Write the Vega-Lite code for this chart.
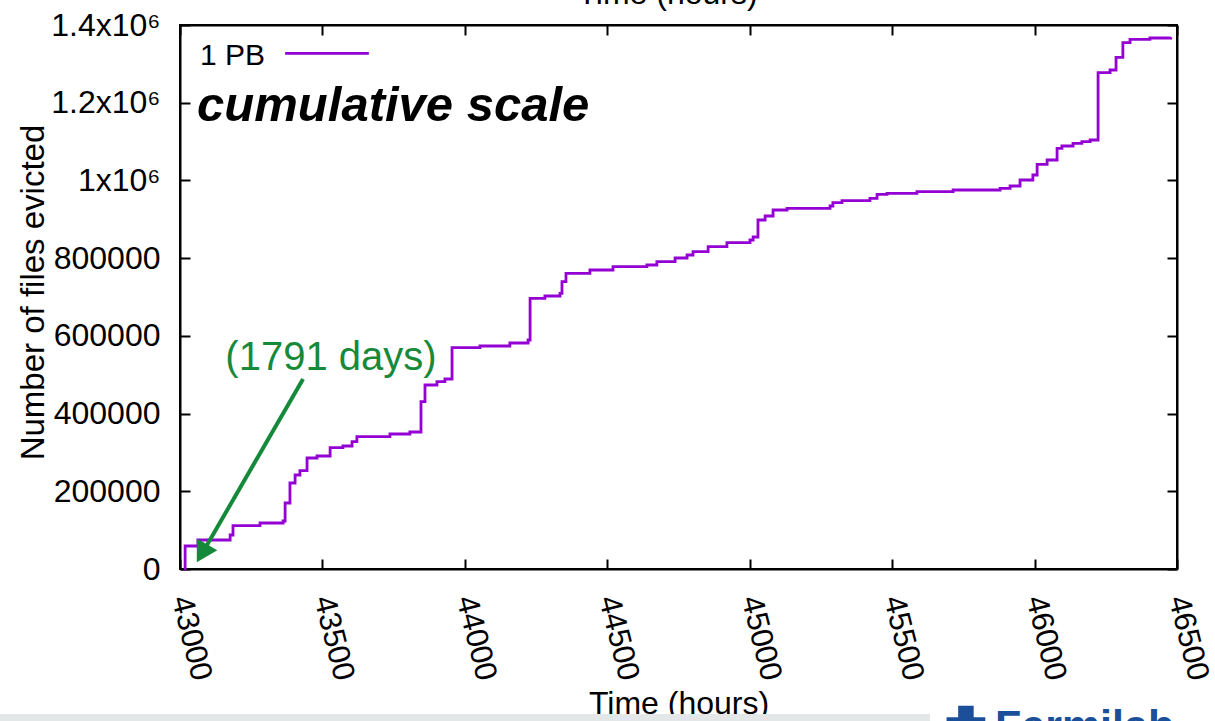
{
  "$schema": "https://vega.github.io/schema/vega-lite/v6.json",
  "width": 997,
  "height": 544,
  "autosize": {"type": "none"},
  "padding": {"left": 180, "top": 25, "right": 38, "bottom": 152},
  "background": "white",
  "config": {
    "font": "Liberation Sans",
    "view": {"stroke": "black", "strokeWidth": 2},
    "axis": {
      "grid": false,
      "domainColor": "black",
      "domainWidth": 2,
      "tickColor": "black",
      "tickWidth": 2,
      "tickSize": -10,
      "labelColor": "black",
      "labelFont": "Liberation Sans",
      "labelFontSize": 32,
      "titleFont": "Liberation Sans",
      "titleFontSize": 32,
      "titleFontWeight": "normal",
      "titleColor": "black",
      "labelOverlap": false,
      "labelFlush": false
    }
  },
  "datasets": {
    "evictions": [
      {"hour": 43015, "files": 0},
      {"hour": 43018, "files": 59200},
      {"hour": 43063, "files": 74600},
      {"hour": 43176, "files": 87500},
      {"hour": 43186, "files": 111400},
      {"hour": 43281, "files": 118400},
      {"hour": 43362, "files": 123500},
      {"hour": 43369, "files": 169900},
      {"hour": 43386, "files": 221300},
      {"hour": 43404, "files": 241900},
      {"hour": 43421, "files": 253000},
      {"hour": 43446, "files": 285700},
      {"hour": 43481, "files": 290800},
      {"hour": 43527, "files": 312200},
      {"hour": 43572, "files": 316500},
      {"hour": 43604, "files": 327600},
      {"hour": 43621, "files": 340500},
      {"hour": 43737, "files": 347400},
      {"hour": 43807, "files": 352600},
      {"hour": 43846, "files": 430500},
      {"hour": 43860, "files": 473500},
      {"hour": 43902, "files": 482000},
      {"hour": 43930, "files": 489000},
      {"hour": 43955, "files": 569500},
      {"hour": 44053, "files": 573900},
      {"hour": 44158, "files": 581600},
      {"hour": 44222, "files": 589300},
      {"hour": 44229, "files": 696600},
      {"hour": 44281, "files": 702600},
      {"hour": 44334, "files": 709500},
      {"hour": 44341, "files": 739400},
      {"hour": 44355, "files": 761000},
      {"hour": 44439, "files": 769500},
      {"hour": 44520, "files": 778000},
      {"hour": 44639, "files": 782300},
      {"hour": 44674, "files": 790800},
      {"hour": 44738, "files": 800400},
      {"hour": 44780, "files": 808100},
      {"hour": 44801, "files": 816600},
      {"hour": 44854, "files": 829400},
      {"hour": 44920, "files": 839700},
      {"hour": 45001, "files": 846700},
      {"hour": 45012, "files": 854400},
      {"hour": 45029, "files": 898200},
      {"hour": 45054, "files": 908400},
      {"hour": 45082, "files": 923900},
      {"hour": 45131, "files": 928300},
      {"hour": 45282, "files": 934200},
      {"hour": 45292, "files": 942700},
      {"hour": 45324, "files": 947800},
      {"hour": 45422, "files": 954000},
      {"hour": 45447, "files": 964300},
      {"hour": 45482, "files": 966800},
      {"hour": 45587, "files": 971000},
      {"hour": 45714, "files": 975400},
      {"hour": 45879, "files": 979700},
      {"hour": 45914, "files": 985700},
      {"hour": 45949, "files": 1001100},
      {"hour": 45994, "files": 1014000},
      {"hour": 46009, "files": 1041500},
      {"hour": 46044, "files": 1052600},
      {"hour": 46079, "files": 1082700},
      {"hour": 46096, "files": 1088600},
      {"hour": 46135, "files": 1095500},
      {"hour": 46166, "files": 1099700},
      {"hour": 46195, "files": 1104000},
      {"hour": 46223, "files": 1277200},
      {"hour": 46265, "files": 1284200},
      {"hour": 46286, "files": 1316900},
      {"hour": 46310, "files": 1354400},
      {"hour": 46335, "files": 1363200},
      {"hour": 46405, "files": 1366500},
      {"hour": 46478, "files": 1368300}
    ]
  },
  "layer": [
    {
      "data": {"values": [{"x0": 42368, "x1": 45633, "y0": -373200, "y1": -401500}]},
      "mark": {"type": "rect", "color": "#e3e7e7", "clip": false},
      "encoding": {
        "x": {"field": "x0", "type": "quantitative", "axis": null},
        "x2": {"field": "x1"},
        "y": {"field": "y0", "type": "quantitative", "axis": null},
        "y2": {"field": "y1"}
      }
    },
    {
      "data": {"name": "evictions"},
      "mark": {"type": "line", "interpolate": "step-after", "color": "#9400d3", "strokeWidth": 2.8},
      "encoding": {
        "x": {
          "field": "hour",
          "type": "quantitative",
          "scale": {"domain": [43000, 46500], "nice": false, "zero": false},
          "axis": {
            "orient": "bottom",
            "values": [43000, 43500, 44000, 44500, 45000, 45500, 46000, 46500],
            "format": "d",
            "labelFontSize": 31,
            "labelAngle": 76,
            "labelAlign": "left",
            "labelBaseline": "middle",
            "labelPadding": 37,
            "title": "Time (hours)",
            "titleY": 144,
            "titleBaseline": "alphabetic"
          }
        },
        "y": {
          "field": "files",
          "type": "quantitative",
          "scale": {"domain": [0, 1400000], "nice": false, "zero": false},
          "axis": {
            "orient": "left",
            "values": [0, 200000, 400000, 600000, 800000, 1000000, 1200000, 1400000],
            "labelExpr": "datum.value >= 1000000 ? format(datum.value / 1000000, '.2~f') + 'x10⁶' : format(datum.value, 'd')",
            "labelPadding": 30,
            "title": "Number of files evicted",
            "titleFontSize": 33,
            "titleAngle": -90,
            "titleX": -137,
            "titleY": 267,
            "titleBaseline": "alphabetic"
          }
        }
      }
    },
    {
      "data": {"values": [{"x": 43530, "y": 512000, "label": "(1791 days)"}]},
      "mark": {"type": "text", "color": "#178a3a", "fontSize": 40, "align": "center", "baseline": "alphabetic", "font": "Liberation Sans"},
      "encoding": {
        "x": {
          "field": "x",
          "type": "quantitative",
          "axis": {
            "orient": "top",
            "values": [43000, 43500, 44000, 44500, 45000, 45500, 46000, 46500],
            "labels": false,
            "title": "Time (hours)",
            "titleX": 487,
            "titleY": -22,
            "titleBaseline": "alphabetic"
          }
        },
        "y": {
          "field": "y",
          "type": "quantitative",
          "axis": {
            "orient": "right",
            "values": [0, 200000, 400000, 600000, 800000, 1000000, 1200000, 1400000],
            "labels": false,
            "title": null
          }
        },
        "text": {"field": "label"}
      }
    },
    {
      "data": {"values": [{"x": 43060, "y": 1152900, "label": "cumulative scale"}]},
      "mark": {"type": "text", "color": "black", "fontSize": 49, "fontWeight": "bold", "fontStyle": "italic", "align": "left", "baseline": "alphabetic", "font": "Liberation Sans"},
      "encoding": {
        "x": {"field": "x", "type": "quantitative", "axis": null},
        "y": {"field": "y", "type": "quantitative", "axis": null},
        "text": {"field": "label"}
      }
    },
    {
      "data": {"values": [{"x": 43070, "y": 1297000, "label": "1 PB"}]},
      "mark": {"type": "text", "color": "black", "fontSize": 30, "align": "left", "baseline": "alphabetic", "font": "Liberation Sans"},
      "encoding": {
        "x": {"field": "x", "type": "quantitative", "axis": null},
        "y": {"field": "y", "type": "quantitative", "axis": null},
        "text": {"field": "label"}
      }
    },
    {
      "data": {"values": [{"x0": 43369, "x1": 43663, "y": 1327200}]},
      "mark": {"type": "rule", "color": "#9400d3", "strokeWidth": 2.8},
      "encoding": {
        "x": {"field": "x0", "type": "quantitative", "axis": null},
        "x2": {"field": "x1"},
        "y": {"field": "y", "type": "quantitative", "axis": null}
      }
    },
    {
      "data": {"values": [{"x0": 43432, "y0": 489000, "x1": 43080, "y1": 43000}]},
      "mark": {"type": "rule", "color": "#15893a", "strokeWidth": 4},
      "encoding": {
        "x": {"field": "x0", "type": "quantitative", "axis": null},
        "y": {"field": "y0", "type": "quantitative", "axis": null},
        "x2": {"field": "x1"},
        "y2": {"field": "y1"}
      }
    },
    {
      "data": {"values": [{"x": 43077, "y": 40400}]},
      "mark": {"type": "point", "shape": "triangle-up", "angle": 210, "size": 560, "filled": true, "color": "#15893a", "opacity": 1},
      "encoding": {
        "x": {"field": "x", "type": "quantitative", "axis": null},
        "y": {"field": "y", "type": "quantitative", "axis": null}
      }
    },
    {
      "data": {"values": [{"x": 45759, "y": -401500}]},
      "mark": {"type": "point", "shape": "cross", "size": 1500, "filled": true, "color": "#1b4f9a", "opacity": 1, "clip": false},
      "encoding": {
        "x": {"field": "x", "type": "quantitative", "axis": null},
        "y": {"field": "y", "type": "quantitative", "axis": null}
      }
    },
    {
      "data": {"values": [{"x": 45861, "y": -440000, "label": "Fermilab"}]},
      "mark": {"type": "text", "color": "#1b4f9a", "fontSize": 43, "fontWeight": "bold", "align": "left", "baseline": "alphabetic", "font": "Liberation Sans", "clip": false},
      "encoding": {
        "x": {"field": "x", "type": "quantitative", "axis": null},
        "y": {"field": "y", "type": "quantitative", "axis": null},
        "text": {"field": "label"}
      }
    }
  ],
  "resolve": {"axis": {"x": "independent", "y": "independent"}}
}
